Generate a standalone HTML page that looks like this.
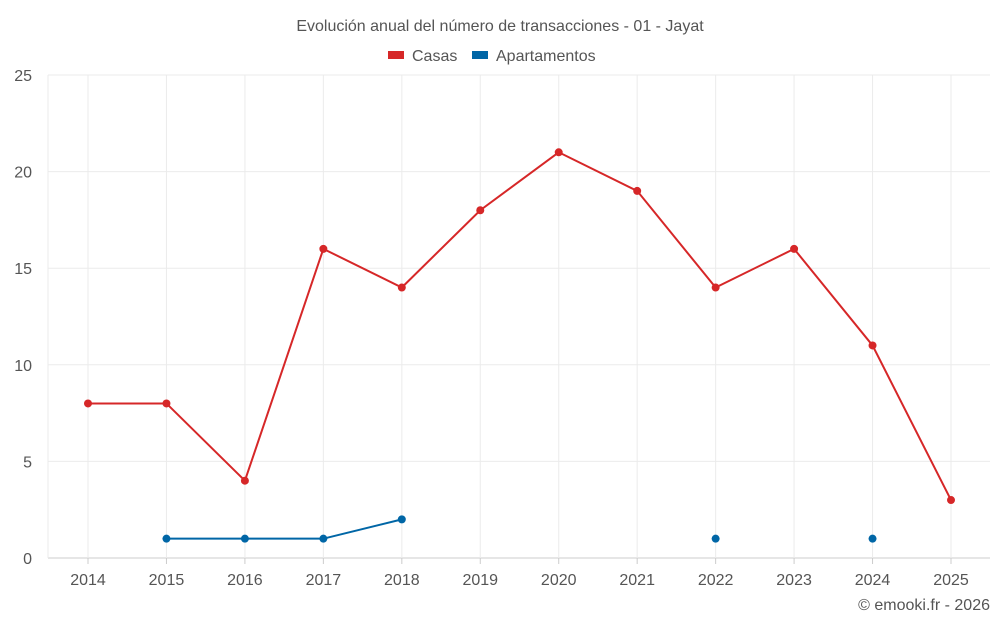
<!DOCTYPE html>
<html><head><meta charset="utf-8"><style>
body{margin:0;background:#fff;font-family:"Liberation Sans",sans-serif;}
svg text{font-family:"Liberation Sans",sans-serif;fill:#555;}
</style></head><body>
<svg id="chart" width="1000" height="625" xmlns="http://www.w3.org/2000/svg">
<text x="500" y="31" text-anchor="middle" font-size="16">Evolución anual del número de transacciones - 01 - Jayat</text>
<g>
<g><rect x="388" y="51" width="16" height="8" fill="#d62728"/><text x="412" y="61" font-size="16">Casas</text></g>
<g><rect x="472" y="51" width="16" height="8" fill="#0066a6"/><text x="496" y="61" font-size="16">Apartamentos</text></g>
</g>
<g id="grid"></g>
<g id="axes"></g>
<g id="series"></g>
<text x="990" y="610" text-anchor="end" font-size="16">© emooki.fr - 2026</text>
</svg>
<script>
const categories=[2014,2015,2016,2017,2018,2019,2020,2021,2022,2023,2024,2025];
const casas=[8,8,4,16,14,18,21,19,14,16,11,3];
const apartamentos=[null,1,1,1,2,null,null,null,1,null,1,null];
const yTicks=[0,5,10,15,20,25];
const NS="http://www.w3.org/2000/svg";
const L=48,R=990,T=75,B=558;
const x=i=>88+i*(951-88)/(categories.length-1);
const y=v=>B-(v/25)*(B-T);
function mk(tag,attrs,parent){const e=document.createElementNS(NS,tag);for(const k in attrs)e.setAttribute(k,attrs[k]);parent.appendChild(e);return e;}
const grid=document.getElementById('grid'),axes=document.getElementById('axes'),ser=document.getElementById('series');
yTicks.forEach(t=>{
 const ln=mk('line',{x1:L,x2:R,y1:y(t),y2:y(t),stroke:t===0?'#ccc':'#ebebeb','stroke-width':1},grid);
 
 
 const tx=mk('text',{x:32,y:y(t)+6,'text-anchor':'end','font-size':16},axes);tx.textContent=t;
 
 
});
const lv=mk('line',{x1:L,x2:L,y1:T,y2:B,stroke:'#ebebeb'},grid);


categories.forEach((c,i)=>{
 const ln=mk('line',{x1:x(i),x2:x(i),y1:T,y2:B,stroke:'#ebebeb'},grid);
 
 
 const tk=mk('line',{x1:x(i),x2:x(i),y1:B,y2:B+6,stroke:'#ccc'},axes);
 
 
 const tx=mk('text',{x:x(i),y:585,'text-anchor':'middle','font-size':16},axes);tx.textContent=c;
 
 
});
function draw(data,color,name){
 let segs=[],cur=[];
 data.forEach((v,i)=>{if(v==null){if(cur.length)segs.push(cur);cur=[];}else cur.push([x(i),y(v)]);});
 if(cur.length)segs.push(cur);
 segs.forEach(s=>{if(s.length>1){const p=mk('polyline',{points:s.map(q=>q.join(',')).join(' '),fill:'none',stroke:color,'stroke-width':2},ser);
  
  }});
 data.forEach((v,i)=>{if(v==null)return;const c=mk('circle',{cx:x(i),cy:y(v),r:4,fill:color},ser);
  
  });
}
draw(casas,'#d62728','casas');
draw(apartamentos,'#0066a6','apartamentos');
</script>
</body></html>
